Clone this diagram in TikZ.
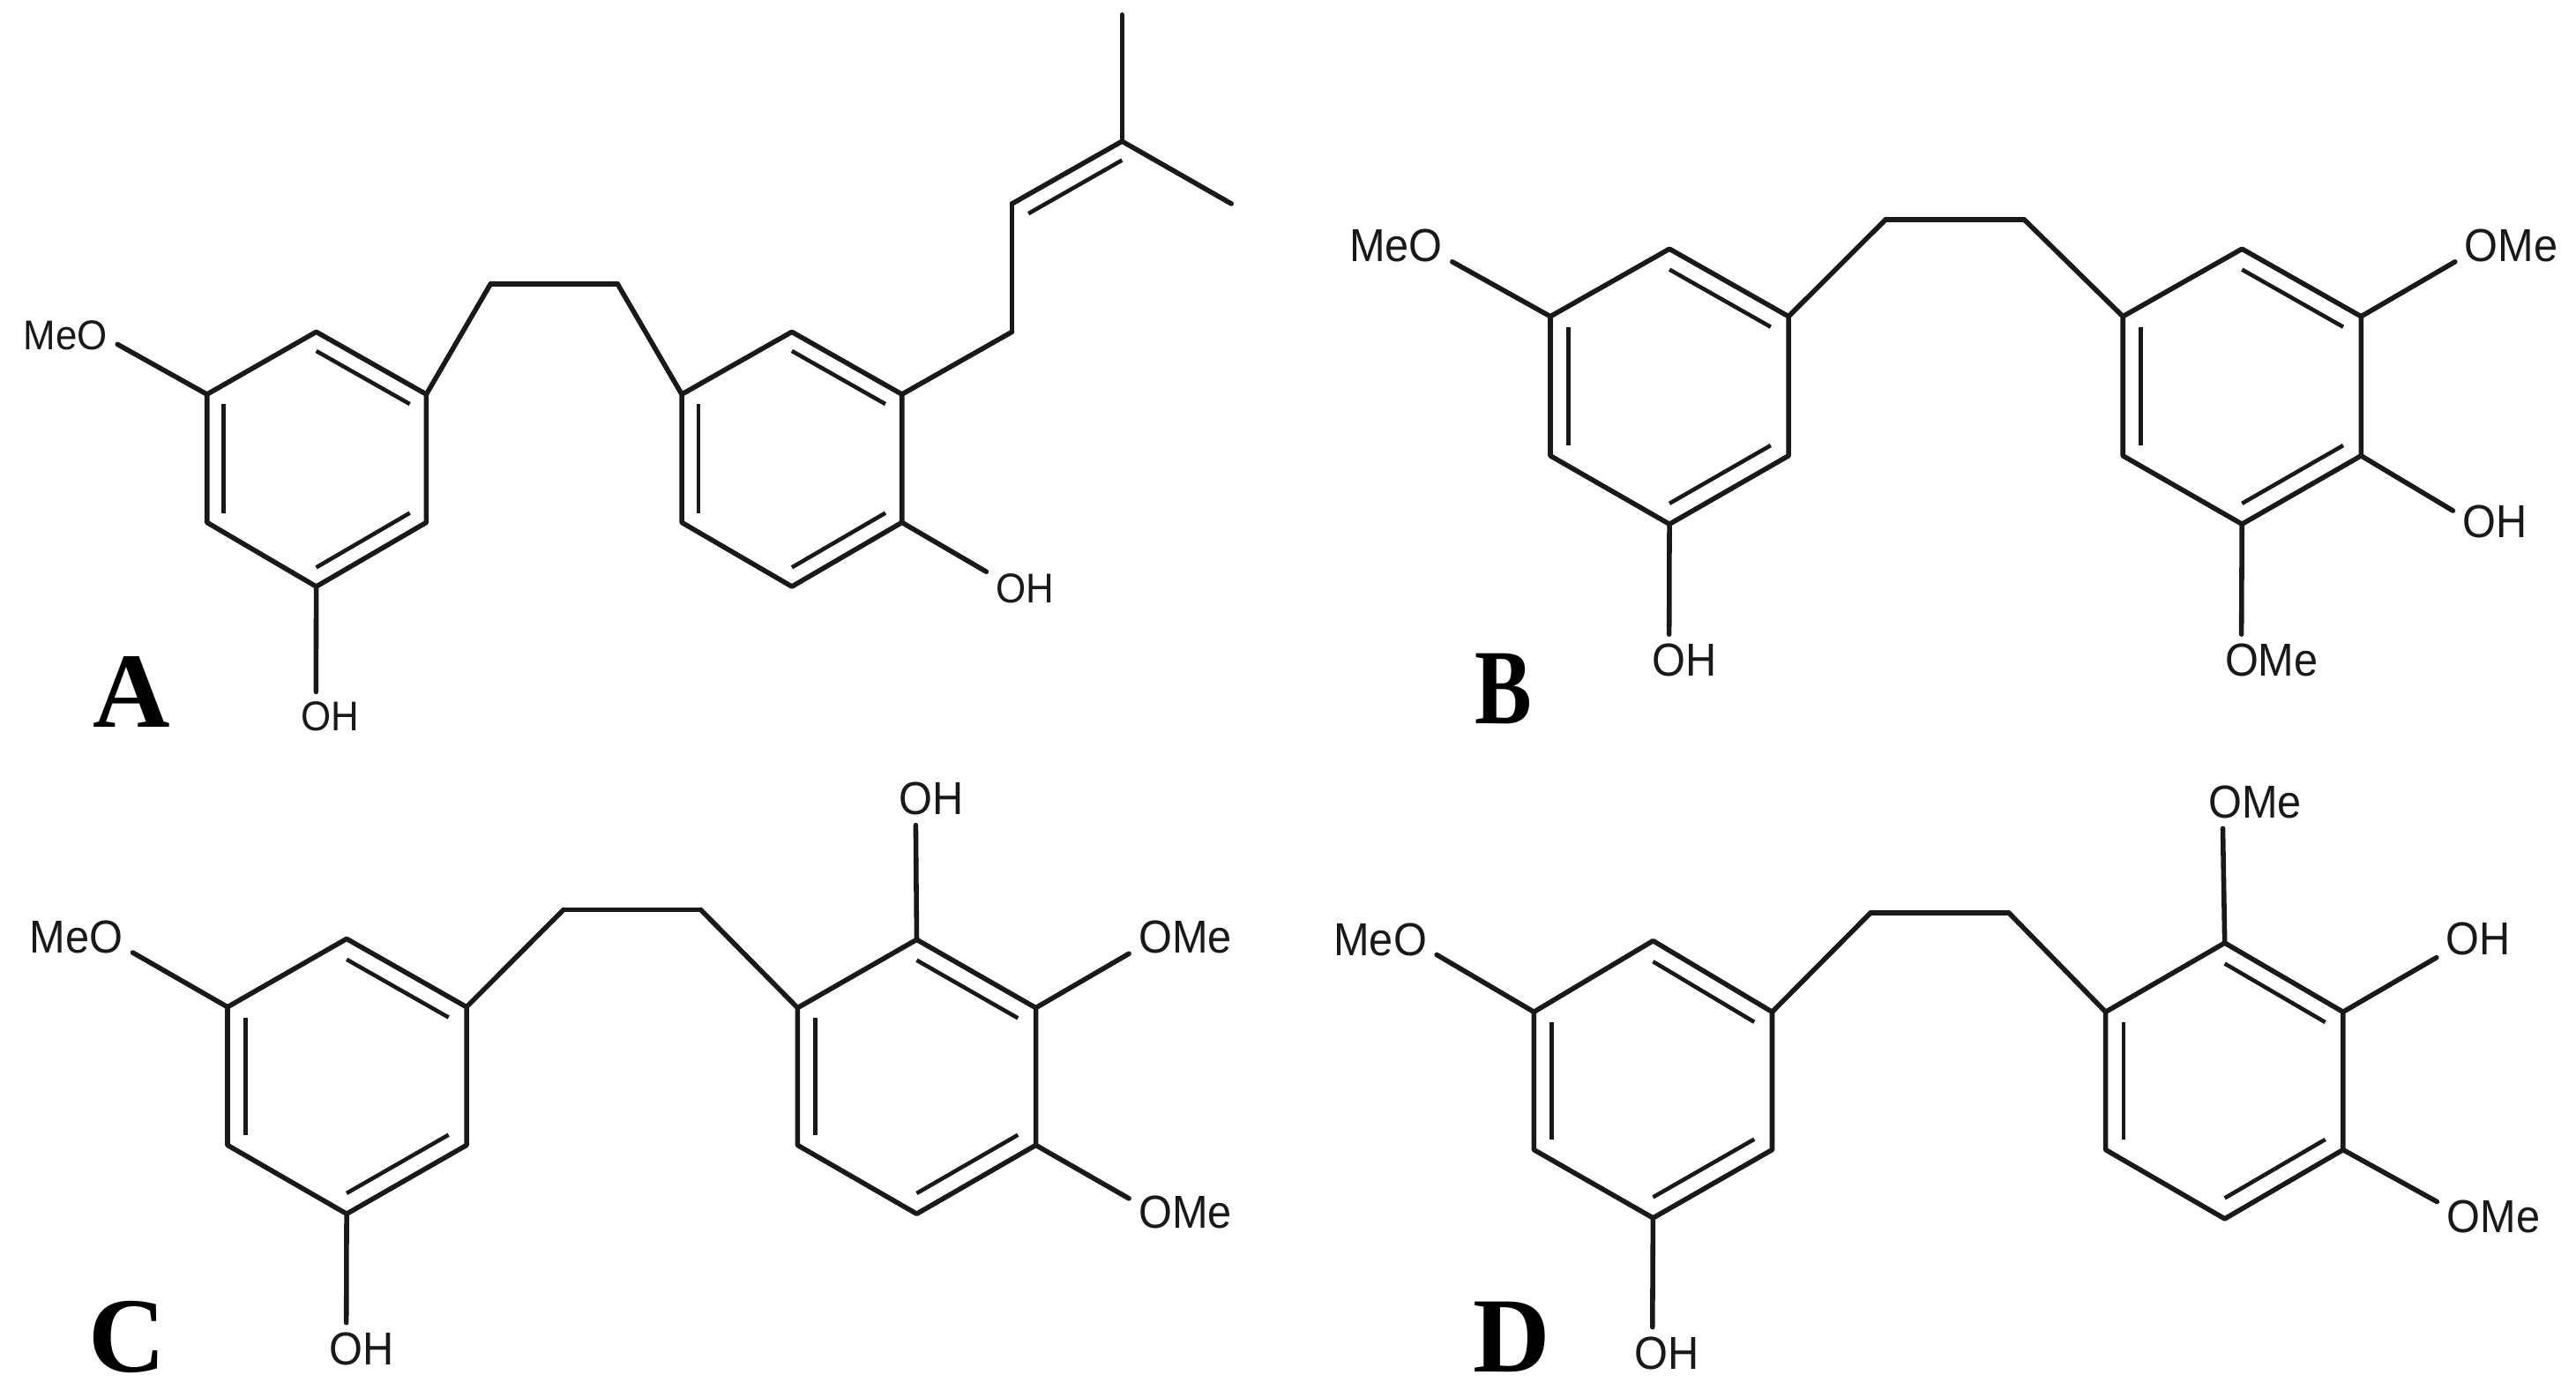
\documentclass[tikz,border=0pt]{standalone}
\usepackage{fontspec}
\setmainfont{Liberation Sans}
\newfontfamily\atomfont[FakeStretch=0.93]{Liberation Sans}
\newfontfamily\tagfont{Liberation Serif}
\newfontfamily\tagnarrow[FakeStretch=0.8]{Liberation Serif}
\usetikzlibrary{calc}
\tikzset{
    %Define style for bonds
    bind/.style={
           draw=black!90,
           line width=0.85pt,
           line cap=round,
           line join=round},
    %Inner line of a double bond
    bindin/.style={
           draw=black!90,
           line width=0.7pt},
    %Define style for atom labels
    atom/.style={
           inner sep=1.5pt,
           text=black!90,
           font=\atomfont\fontsize{8}{9}\selectfont},
    atomsmall/.style={
           atom,
           font=\atomfont\fontsize{7.2}{8}\selectfont},
    %Panel letters
    paneltag/.style={
           inner sep=0pt,
           font=\tagfont\bfseries\fontsize{18.5}{20}\selectfont}
}
% prefix, x left, mid, right, y top, upper, lower, bottom
\newcommand{\ring}[8]{
  \coordinate (#11) at (#3,#5);
  \coordinate (#12) at (#4,#6);
  \coordinate (#13) at (#4,#7);
  \coordinate (#14) at (#3,#8);
  \coordinate (#15) at (#2,#7);
  \coordinate (#16) at (#2,#6);
  \coordinate (#1o) at (#3,{(#5+#8)/2});
  \draw[bind] (#11) -- (#12) -- (#13) -- (#14) -- (#15) -- (#16) -- cycle;
  \draw[bindin] ($(#11)!.15!(#1o)$) -- ($(#12)!.15!(#1o)$);
  \draw[bindin] ($(#13)!.15!(#1o)$) -- ($(#14)!.15!(#1o)$);
  \draw[bindin] ($(#15)!.15!(#1o)$) -- ($(#16)!.15!(#1o)$);
}
\begin{document}
\begin{tikzpicture}[x=0.01cm,y=-0.01cm]
\useasboundingbox (0,0) rectangle (1568,846);

% A
\ring{a}{126}{192.5}{259.5}{202}{240}{318}{357}
\ring{b}{415}{482}{549}{202}{240}{318}{357}
\coordinate (c1) at (298.5,173);
\coordinate (c2) at (376,173);
\coordinate (p1) at (616,202);
\coordinate (p2) at (616,124);
\coordinate (p3) at (683,86);
\coordinate (p4) at (683,9);
\coordinate (p5) at (749.5,124);
\node[atomsmall](ameo) at (40,204){MeO};
\node[atomsmall](aoh) at (201,436){OH};
\node[atomsmall](boh) at (624,358){OH};
\node[paneltag](taga) at (80,421){A};
\path[bind]
    (a2) edge (c1)
    (c1) edge (c2)
    (c2) edge (b6)
    (b2) edge (p1)
    (p1) edge (p2)
    (p2) edge (p3)
    (p3) edge (p4)
    (p3) edge (p5)
    (a6) edge (ameo.-10)
    (a4) edge (aoh.120.7)
    (b3) edge (boh.157);
\draw[bindin] ($(p2)+(10,6)$) -- ($(p3)+(0,11.5)$);

% B
\ring{d}{943.7}{1016.2}{1088.7}{151.5}{192.6}{277.4}{319}
\ring{e}{1292.2}{1364.7}{1437.2}{151.5}{192.6}{277.4}{319}
\coordinate (f1) at (1147.7,133.7);
\coordinate (f2) at (1232.2,133.7);
\node[atom](dmeo) at (849.7,149.5){MeO};
\node[atom](doh) at (1025.2,402){OH};
\node[atom](eomeu) at (1528.7,149.5){OMe};
\node[atom](eoh) at (1518.7,317.7){OH};
\node[atom](eomed) at (1382.7,402){OMe};
\node[paneltag,font=\tagnarrow\bfseries\fontsize{18.5}{20}\selectfont](tagb) at (915.2,419){B};
\path[bind]
    (d2) edge (f1)
    (f1) edge (f2)
    (f2) edge (e6)
    (d6) edge (dmeo.-16)
    (d4) edge (doh.120.5)
    (e2) edge (eomeu.196)
    (e3) edge (eoh.165)
    (e4) edge (eomed.139.6);

% C
\ring{g}{138.5}{211}{284}{571.4}{612.9}{697}{738.8}
\ring{h}{485.5}{558}{630.5}{571.9}{613.4}{697}{738.8}
\coordinate (i1) at (343,553.7);
\coordinate (i2) at (426.5,553.7);
\node[atom](gmeo) at (46.5,570.6){MeO};
\node[atom](goh) at (220,821){OH};
\node[atom](hoh) at (567,486.3){OH};
\node[atom](homeu) at (721.5,570.6){OMe};
\node[atom](homed) at (721.5,738){OMe};
\node[paneltag](tagc) at (77.5,813.6){C};
\path[bind]
    (g2) edge (i1)
    (i1) edge (i2)
    (i2) edge (h6)
    (g6) edge (gmeo.-15)
    (g4) edge (goh.120.5)
    (h1) edge (hoh.239.5)
    (h2) edge (homeu.196)
    (h3) edge (homed.166);

% D
\ring{j}{933.7}{1006.2}{1078.7}{572.6}{615.9}{699.8}{741.3}
\ring{k}{1281.7}{1354.2}{1426.2}{573.9}{615.9}{699.8}{741.8}
\coordinate (l1) at (1138.7,555.5);
\coordinate (l2) at (1222.7,555.5);
\node[atom](jmeo) at (840.2,571.9){MeO};
\node[atom](joh) at (1014.7,823.7){OH};
\node[atom](komet) at (1372.7,488.3){OMe};
\node[atom](koh) at (1508.7,571.4){OH};
\node[atom](komed) at (1517.7,740.6){OMe};
\node[paneltag](tagd) at (920.2,813.6){D};
\path[bind]
    (j2) edge (l1)
    (l1) edge (l2)
    (l2) edge (k6)
    (j6) edge (jmeo.-15)
    (j4) edge (joh.119)
    (k1) edge (komet.219.6)
    (k2) edge (koh.204)
    (k3) edge (komed.165);
\end{tikzpicture}
\end{document}
